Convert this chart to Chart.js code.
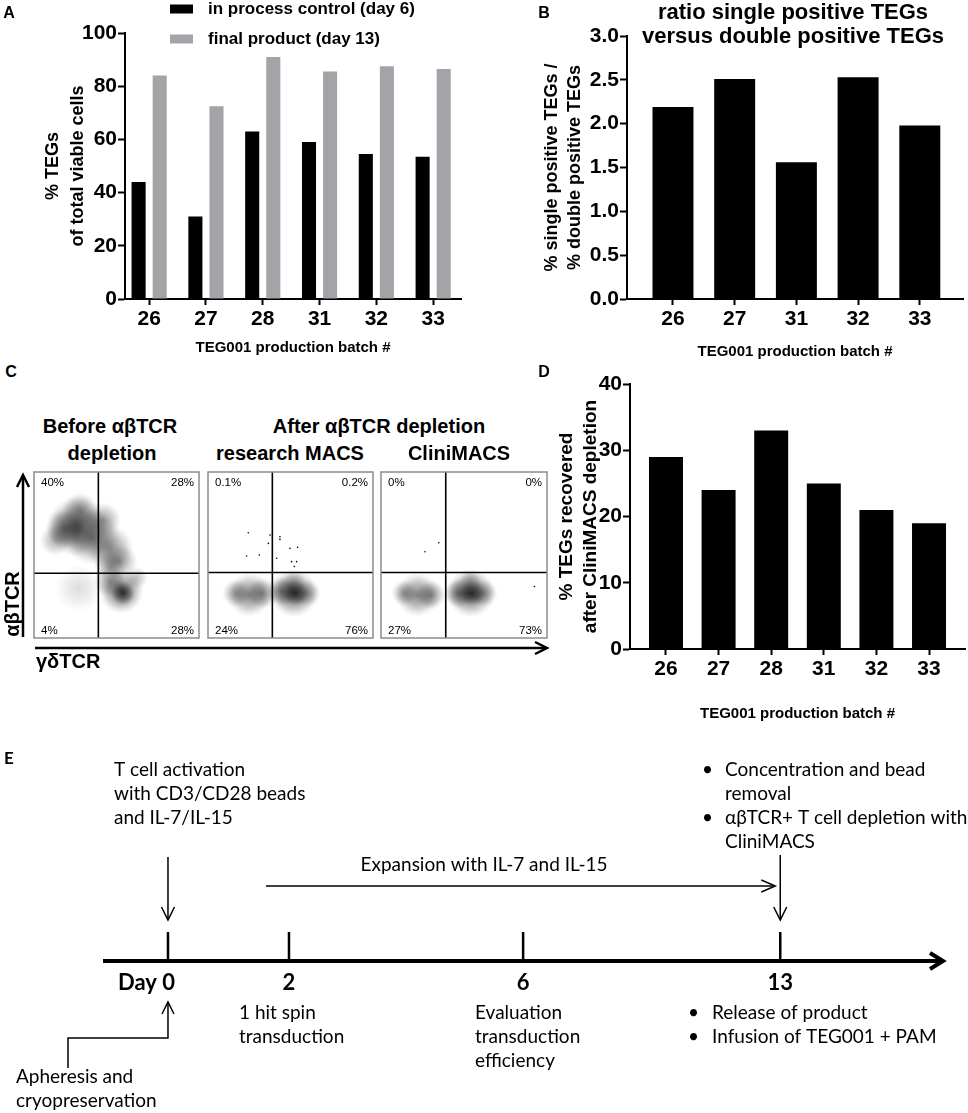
<!DOCTYPE html>
<html>
<head>
<meta charset="utf-8">
<title>TEG001 production</title>
<script src="https://cdn.jsdelivr.net/npm/chart.js@4.4.1/dist/chart.umd.min.js"></script>
<style>
  body { margin: 0; background: #fff; }
  #fig { position: relative; width: 968px; height: 1113px; overflow: hidden;
         font-family: "Liberation Sans", Arial, sans-serif; color: #000; }
  .pane { position: absolute; }
  .t { position: absolute; white-space: nowrap; line-height: 1; font-weight: bold; }
</style>
</head>
<body>
<div id="fig">
  <svg class="pane" style="left:0;top:0" width="968" height="700">
    <g stroke="#000" stroke-width="2.5" fill="none">
      <path d="M23 637 L23 476"/>
      <path d="M17 487 L23 475 L29 487"/>
      <path d="M35 648 L545 648"/>
      <path d="M535 642 L547 648 L535 654"/>
    </g>
  </svg>
  <div class="pane" style="left:0;top:0"><canvas id="chartA" width="480" height="360"></canvas></div>
  <div class="pane" style="left:480px;top:0"><canvas id="chartB" width="488" height="361"></canvas></div>
  <div class="pane" style="left:540px;top:360px"><canvas id="chartD" width="428" height="370"></canvas></div>
  <div class="pane" style="left:33px;top:471px"><canvas id="flow1" width="167" height="168"></canvas></div>
  <div class="pane" style="left:207px;top:471px"><canvas id="flow2" width="167" height="168"></canvas></div>
  <div class="pane" style="left:380px;top:471px"><canvas id="flow3" width="168" height="168"></canvas></div>
  <div class="pane" style="left:0;top:740px"><canvas id="chartE" width="968" height="373"></canvas></div>
</div>
<script>
// ---- data ----
const batchesA = ['26', '27', '28', '31', '32', '33'];
const day6 = [44, 31, 63, 59, 54.5, 53.5];
const day13 = [84, 72.5, 91, 85.5, 87.5, 86.5];

const batchesB = ['26', '27', '31', '32', '33'];
const spRatio = [2.19, 2.51, 1.56, 2.53, 1.98];

const batchesD = ['26', '27', '28', '31', '32', '33'];
const recovered = [29, 24, 33, 25, 21, 19];

// flow cytometry: gate positions (% of axis), quadrant frequencies (UL, UR, LL, LR)
const gateBefore = [39, 39];
const gateResearch = [39, 39.5];
const gateClini = [39, 39.5];
const quadBefore = ['40%', '28%', '4%', '28%'];
const quadResearch = ['0.1%', '0.2%', '24%', '76%'];
const quadClini = ['0%', '0%', '27%', '73%'];

// event clouds (x %, y %, r px, w = relative density) and single events
const cloudBefore = [
  { x: 26, y: 67, r: 30, w: 1 }, { x: 19, y: 66, r: 20, w: 0.8 }, { x: 35, y: 61, r: 28, w: 0.8 },
  { x: 46, y: 54, r: 24, w: 0.7 }, { x: 52, y: 46, r: 18, w: 0.6 }, { x: 28, y: 77, r: 18, w: 0.6 },
  { x: 13, y: 59, r: 16, w: 0.5 }, { x: 42, y: 71, r: 18, w: 0.6 }, { x: 53, y: 28, r: 22, w: 1 },
  { x: 54, y: 27, r: 12, w: 1 }, { x: 46, y: 34, r: 16, w: 0.6 }, { x: 46, y: 43, r: 16, w: 0.5 },
  { x: 27, y: 30, r: 24, w: 0.22 }, { x: 62, y: 36, r: 12, w: 0.4 }
];
const cloudResearch = [
  { x: 25, y: 26, r: 22, w: 0.8 }, { x: 17, y: 27, r: 14, w: 0.6 }, { x: 33, y: 27, r: 16, w: 0.7 },
  { x: 52, y: 27, r: 24, w: 1 }, { x: 53, y: 27, r: 13, w: 1 }, { x: 45, y: 28, r: 15, w: 0.8 },
  { x: 60, y: 27, r: 14, w: 0.6 }, { x: 52, y: 33, r: 12, w: 0.4 }
];
const cloudClini = [
  { x: 22, y: 26, r: 22, w: 0.8 }, { x: 14, y: 27, r: 13, w: 0.6 }, { x: 30, y: 26, r: 15, w: 0.7 },
  { x: 54, y: 27, r: 24, w: 1 }, { x: 55, y: 27, r: 13, w: 1 }, { x: 47, y: 27, r: 15, w: 0.8 },
  { x: 62, y: 27, r: 14, w: 0.6 }, { x: 54, y: 34, r: 12, w: 0.4 }
];
const dotsBefore = [];
const dotsResearch = [
  { x: 24.4, y: 63.4, r: 0.8 }, { x: 37.6, y: 62, r: 0.8 }, { x: 43.6, y: 61, r: 0.8 },
  { x: 43.6, y: 59.4, r: 0.8 }, { x: 36.6, y: 57, r: 0.8 }, { x: 31.1, y: 50, r: 0.8 },
  { x: 23.4, y: 49.4, r: 0.8 }, { x: 49.7, y: 54, r: 0.8 }, { x: 54.3, y: 54.6, r: 0.8 },
  { x: 41.6, y: 48, r: 0.8 }, { x: 50.7, y: 46, r: 0.8 }, { x: 53.7, y: 46, r: 0.8 },
  { x: 52.3, y: 43, r: 0.8 }
];
const dotsClini = [
  { x: 34.8, y: 57.4, r: 0.8 }, { x: 26.5, y: 52, r: 0.8 }, { x: 92.4, y: 31, r: 0.8 }
];

// timeline: day labels and their place along the (non-linear) drawn axis
const tlLabels = ['Day 0', '2', '6', '13'];
const tlPos = [0, 2, 5.87, 10.12];

// ---- shared styling ----
const FAM = '"Liberation Sans", Arial, sans-serif';
const tickFont = { family: FAM, size: 21, weight: 'bold' };
const xTitleFont = { family: FAM, size: 15, weight: 'bold', lineHeight: 1.2 };
const GREY = '#a3a3a8';

const panelText = {
  id: 'panelText',
  afterDraw(chart, args, opts) {
    const ctx = chart.ctx;
    ctx.save();
    (opts.items || []).forEach(it => {
      ctx.font = it.font;
      ctx.fillStyle = '#000';
      ctx.textAlign = it.align || 'center';
      ctx.textBaseline = 'middle';
      ctx.fillText(it.text, it.x, it.y);
    });
    ctx.restore();
  }
};

const seriesKey = {
  id: 'seriesKey',
  afterDraw(chart, args, opts) {
    if (!opts.rows) return;
    const ctx = chart.ctx;
    ctx.save();
    chart.data.datasets.forEach((ds, i) => {
      const y = opts.rows[i];
      ctx.fillStyle = ds.backgroundColor;
      ctx.fillRect(opts.x, y - 4.5, 23, 9);
      ctx.fillStyle = '#000';
      ctx.font = opts.font;
      ctx.textAlign = 'left';
      ctx.textBaseline = 'middle';
      ctx.fillText(ds.label, opts.x + 38, y);
    });
    ctx.restore();
  }
};

function barPanel(id, cfg) {
  return new Chart(document.getElementById(id), {
    type: 'bar',
    data: { datasets: cfg.datasets },
    options: {
      animation: false,
      responsive: false,
      events: [],
      layout: { padding: cfg.padding },
      plugins: {
        legend: { display: false },
        tooltip: { enabled: false },
        panelText: { items: cfg.texts || [] },
        seriesKey: cfg.key || {}
      },
      scales: {
        x: {
          type: 'linear',
          min: cfg.xMin,
          max: cfg.xMax,
          offset: false,
          afterBuildTicks: s => { s.ticks = cfg.labels.map((_, i) => ({ value: i })); },
          afterFit: s => { s.height = cfg.xHeight; },
          ticks: { callback: v => cfg.labels[v], font: tickFont, color: '#000', padding: 2, maxRotation: 0, autoSkip: false },
          grid: { offset: false, drawOnChartArea: false, drawTicks: true, tickLength: 6, tickWidth: 2, color: '#000' },
          border: { display: true, color: '#000', width: 2 },
          title: { display: true, text: 'TEG001 production batch #', font: xTitleFont, color: '#000',
                   padding: { top: 0, bottom: cfg.xTitlePad } }
        },
        y: {
          min: 0,
          max: cfg.yMax,
          afterFit: s => { s.width = cfg.yWidth; },
          ticks: { stepSize: cfg.yStep, callback: cfg.yFmt, font: tickFont, color: '#000', padding: 1 },
          grid: { drawOnChartArea: false, drawTicks: true, tickLength: 7, tickWidth: 2, color: '#000' },
          border: { display: true, color: '#000', width: 2 },
          title: { display: true, text: cfg.yTitle, color: '#000',
                   font: { family: FAM, size: cfg.yTitleSize, weight: 'bold', lineHeight: cfg.yTitleLH },
                   padding: { top: cfg.yTitlePad, bottom: 0 } }
        }
      }
    },
    plugins: [panelText, seriesKey]
  });
}

const asXY = vals => vals.map((v, i) => ({ x: i, y: v }));

// A
barPanel('chartA', {
  datasets: [
    { label: 'in process control (day 6)', data: asXY(day6), backgroundColor: '#000',
      categoryPercentage: 0.743, barPercentage: 0.667 },
    { label: 'final product (day 13)', data: asXY(day13), backgroundColor: GREY,
      categoryPercentage: 0.743, barPercentage: 0.667 }
  ],
  labels: batchesA, xMin: -0.425, xMax: 5.49,
  padding: { left: 0, right: 19, top: 33, bottom: 0 },
  xHeight: 61, xTitlePad: 3, yWidth: 125,
  yMax: 100, yStep: 20, yFmt: v => v,
  yTitle: ['% TEGs', 'of total viable cells'], yTitleSize: 18, yTitleLH: 1.39, yTitlePad: 40.5,
  key: { x: 170, rows: [9, 39], font: 'bold 17px ' + FAM }
});

// B
barPanel('chartB', {
  datasets: [
    { label: 'ratio', data: asXY(spRatio), backgroundColor: '#000',
      categoryPercentage: 0.664, barPercentage: 1 }
  ],
  labels: batchesB, xMin: -0.745, xMax: 4.70,
  padding: { left: 0, right: 5, top: 36, bottom: 0 },
  xHeight: 62, xTitlePad: 0, yWidth: 147,
  yMax: 3, yStep: 0.5, yFmt: v => v.toFixed(1),
  yTitle: ['% single positive TEGs /', '% double positive TEGs'], yTitleSize: 18, yTitleLH: 1.28, yTitlePad: 60.5,
  texts: [
    { text: 'ratio single positive TEGs', x: 313, y: 13, font: 'bold 22px ' + FAM },
    { text: 'versus double positive TEGs', x: 313, y: 37, font: 'bold 22px ' + FAM }
  ]
});

// D
barPanel('chartD', {
  datasets: [
    { label: 'recovered', data: asXY(recovered), backgroundColor: '#000',
      categoryPercentage: 0.646, barPercentage: 1 }
  ],
  labels: batchesD, xMin: -0.684, xMax: 5.684,
  padding: { left: 0, right: 3, top: 24, bottom: 0 },
  xHeight: 81, xTitlePad: 7, yWidth: 90,
  yMax: 40, yStep: 10, yFmt: v => v,
  yTitle: ['% TEGs recovered', 'after CliniMACS depletion'], yTitleSize: 19, yTitleLH: 1.263, yTitlePad: 15
});

// C - flow plots
function cloudFill(ctx) {
  const c = ctx.chart, p = ctx.raw;
  if (!c.chartArea || !p) return 'rgba(0,0,0,0.3)';
  const w = p.w === undefined ? 1 : p.w;
  const x = c.scales.x.getPixelForValue(p.x);
  const y = c.scales.y.getPixelForValue(p.y);
  const g = c.ctx.createRadialGradient(x, y, 0, x, y, p.r);
  g.addColorStop(0, `rgba(0,0,0,${0.6 * w})`);
  g.addColorStop(0.5, `rgba(0,0,0,${0.32 * w})`);
  g.addColorStop(0.85, `rgba(0,0,0,${0.07 * w})`);
  g.addColorStop(1, 'rgba(0,0,0,0)');
  return g;
}

const flowFrame = {
  id: 'flowFrame',
  afterDatasetsDraw(chart, args, o) {
    const { ctx, chartArea: a, scales: { x, y } } = chart;
    const gx = x.getPixelForValue(o.gate[0]);
    const gy = y.getPixelForValue(o.gate[1]);
    ctx.save();
    ctx.strokeStyle = '#000';
    ctx.lineWidth = 1.6;
    ctx.beginPath();
    ctx.moveTo(gx, a.top); ctx.lineTo(gx, a.bottom);
    ctx.moveTo(a.left, gy); ctx.lineTo(a.right, gy);
    ctx.stroke();
    ctx.strokeStyle = '#8c8c8c';
    ctx.lineWidth = 1.5;
    ctx.strokeRect(a.left, a.top, a.right - a.left, a.bottom - a.top);
    ctx.fillStyle = '#000';
    ctx.font = '11.5px ' + FAM;
    ctx.textBaseline = 'middle';
    ctx.textAlign = 'left';
    ctx.fillText(o.quads[0], a.left + 7, a.top + 11);
    ctx.fillText(o.quads[2], a.left + 7, a.bottom - 7);
    ctx.textAlign = 'right';
    ctx.fillText(o.quads[1], a.right - 5, a.top + 11);
    ctx.fillText(o.quads[3], a.right - 5, a.bottom - 7);
    ctx.restore();
  }
};

function flowPanel(id, clouds, dots, gate, quads) {
  return new Chart(document.getElementById(id), {
    type: 'bubble',
    data: {
      datasets: [
        { data: clouds, backgroundColor: cloudFill, borderWidth: 0, hoverRadius: 0 },
        { data: dots, backgroundColor: '#000', borderWidth: 0, hoverRadius: 0 }
      ]
    },
    options: {
      animation: false, responsive: false, events: [],
      layout: { padding: 1, autoPadding: false },
      plugins: { legend: { display: false }, tooltip: { enabled: false }, flowFrame: { gate, quads } },
      scales: {
        x: { type: 'linear', min: 0, max: 100, display: false },
        y: { type: 'linear', min: 0, max: 100, display: false }
      }
    },
    plugins: [flowFrame]
  });
}

flowPanel('flow1', cloudBefore, dotsBefore, gateBefore, quadBefore);
flowPanel('flow2', cloudResearch, dotsResearch, gateResearch, quadResearch);
flowPanel('flow3', cloudClini, dotsClini, gateClini, quadClini);

// E - timeline
const EF = 'Lato, "Liberation Sans", sans-serif';
const timelineNotes = [
  { t: 'T cell activation', x: 114, y: 30 },
  { t: 'with CD3/CD28 beads', x: 114, y: 54 },
  { t: 'and IL-7/IL-15', x: 114, y: 78 },
  { t: '•', x: 702, y: 30 }, { t: 'Concentration and bead', x: 725, y: 30 },
  { t: 'removal', x: 725, y: 54 },
  { t: '•', x: 702, y: 78 }, { t: 'αβTCR+ T cell depletion with', x: 725, y: 78 },
  { t: 'CliniMACS', x: 725, y: 102 },
  { t: 'Expansion with IL-7 and IL-15', x: 484, y: 125, align: 'center' },
  { t: '1 hit spin', x: 239, y: 273 },
  { t: 'transduction', x: 239, y: 297 },
  { t: 'Evaluation', x: 475, y: 273 },
  { t: 'transduction', x: 475, y: 297 },
  { t: 'efficiency', x: 475, y: 321 },
  { t: '•', x: 688, y: 273 }, { t: 'Release of product', x: 712, y: 273 },
  { t: '•', x: 688, y: 297 }, { t: 'Infusion of TEG001 + PAM', x: 712, y: 297 },
  { t: 'Apheresis and', x: 16, y: 337 },
  { t: 'cryopreservation', x: 16, y: 361 }
];

const timelineDraw = {
  id: 'timelineDraw',
  afterDraw(chart) {
    const { ctx, chartArea: a, scales: { x } } = chart;
    const base = a.bottom;
    const px = tlPos.map(p => x.getPixelForValue(p));
    ctx.save();
    ctx.strokeStyle = '#000';
    ctx.fillStyle = '#000';
    const seg = (x1, y1, x2, y2, w) => {
      ctx.lineWidth = w; ctx.beginPath(); ctx.moveTo(x1, y1); ctx.lineTo(x2, y2); ctx.stroke();
    };
    const head = (tx, ty, dx, dy, len, half, w) => {
      ctx.lineWidth = w; ctx.beginPath();
      ctx.moveTo(tx - dx * len - dy * half, ty - dy * len + dx * half);
      ctx.lineTo(tx, ty);
      ctx.lineTo(tx - dx * len + dy * half, ty - dy * len - dx * half);
      ctx.stroke();
    };
    // axis + day ticks
    seg(a.left, base, a.right - 2, base, 4);
    head(a.right, base, 1, 0, 13, 8, 4);
    px.forEach(p => seg(p, base - 29, p, base, 2.5));
    ctx.font = 'bold 22px ' + EF;
    ctx.textBaseline = 'middle';
    tlLabels.forEach((t, i) => {
      ctx.textAlign = i === 0 ? 'right' : 'center';
      ctx.fillText(t, i === 0 ? px[i] + 7 : px[i], base + 22);
    });
    // arrows
    seg(px[0], 117, px[0], 179, 1.5); head(px[0], 180, 0, 1, 13, 6.5, 1.5);
    seg(px[3], 115, px[3], 179, 1.5); head(px[3], 180, 0, 1, 13, 6.5, 1.5);
    seg(px[1] - 23, 146, px[3] - 6, 146, 1.5); head(px[3] - 5, 146, 1, 0, 14, 6, 1.5);
    ctx.lineWidth = 1.5;
    ctx.beginPath();
    ctx.moveTo(68, 328); ctx.lineTo(68, 298); ctx.lineTo(px[0], 298); ctx.lineTo(px[0], 263);
    ctx.stroke();
    head(px[0], 262, 0, -1, 12, 6, 1.5);
    // notes
    ctx.font = '19px ' + EF;
    timelineNotes.forEach(n => {
      ctx.textAlign = n.align || 'left';
      ctx.fillText(n.t, n.x, n.y);
    });
    ctx.restore();
  }
};

new Chart(document.getElementById('chartE'), {
  type: 'scatter',
  data: { datasets: [] },
  options: {
    animation: false, responsive: false, events: [],
    layout: { padding: { left: 103, right: 25, top: 0, bottom: 152 } },
    plugins: { legend: { display: false }, tooltip: { enabled: false } },
    scales: {
      x: { type: 'linear', min: -1.074, max: 12.81, display: false },
      y: { type: 'linear', min: 0, max: 1, display: false }
    }
  },
  plugins: [timelineDraw]
});

// panel letters and plot headings
const fig = document.getElementById('fig');
function addText(txt, x, y, size, opt = {}) {
  const d = document.createElement('div');
  d.className = 't';
  d.textContent = txt;
  d.style.fontSize = size + 'px';
  d.style.left = x + 'px';
  d.style.top = y + 'px';
  if (opt.font) d.style.fontFamily = opt.font;
  const tx = opt.align === 'left' ? '0' : '-50%';
  d.style.transform = `translate(${tx},-50%)` + (opt.rotate ? ` rotate(${opt.rotate}deg)` : '');
  fig.appendChild(d);
}
addText('A', 9, 12.5, 16);
addText('B', 544, 13, 16);
addText('C', 11, 372, 16);
addText('D', 544, 372, 16);
addText('E', 9, 757, 17, { font: EF });
addText('Before αβTCR', 110, 426, 20);
addText('depletion', 112, 453, 20);
addText('After αβTCR depletion', 379, 426, 20);
addText('research MACS', 290, 453, 20);
addText('CliniMACS', 459, 453, 20);
addText('γδTCR', 36, 661, 20, { align: 'left' });
addText('αβTCR', 12, 604, 20, { rotate: -90 });
</script>
</body>
</html>
